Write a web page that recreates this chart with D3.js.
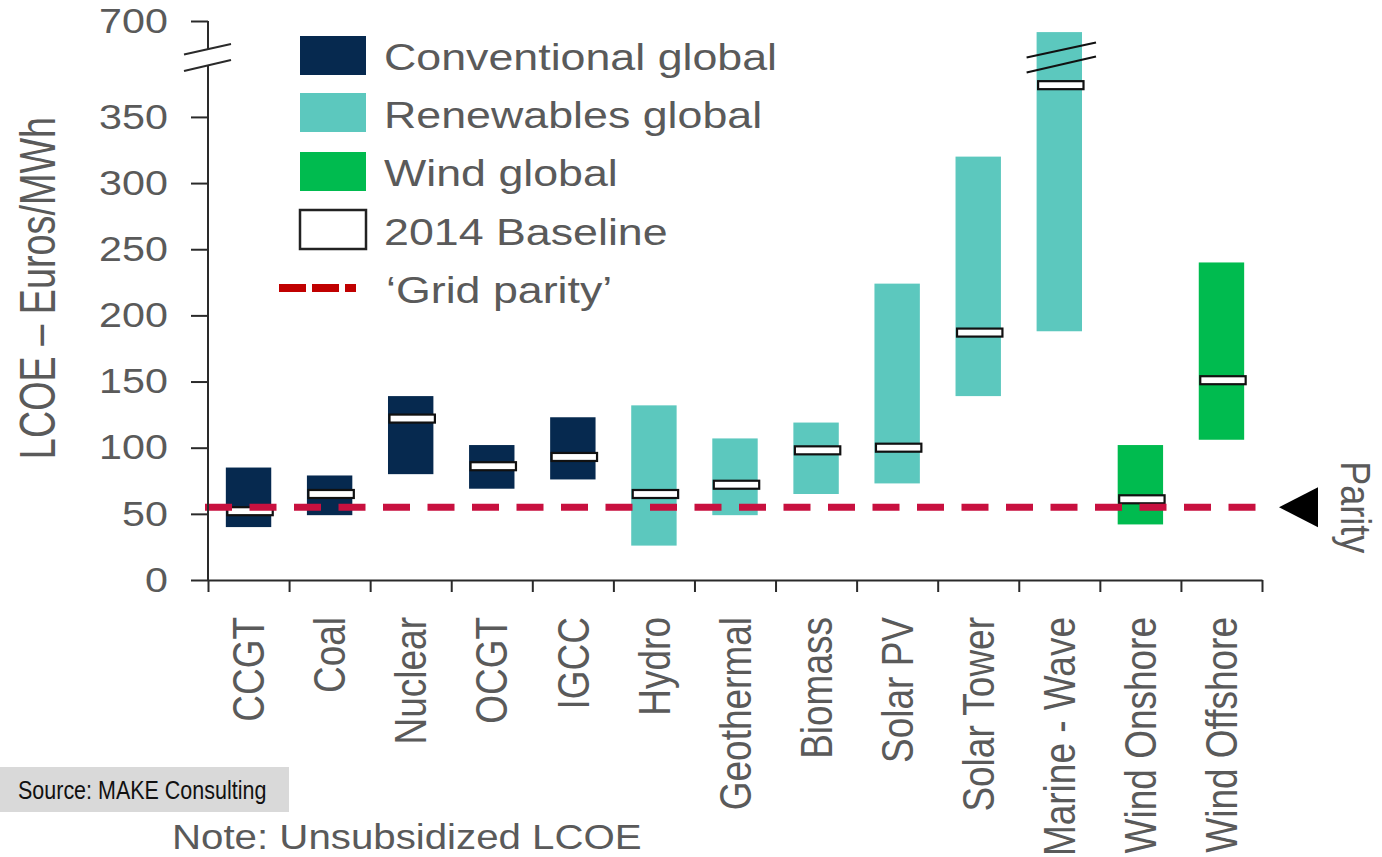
<!DOCTYPE html>
<html>
<head>
<meta charset="utf-8">
<script src="https://cdn.jsdelivr.net/npm/d3@7"></script>
<style>
  html, body { margin: 0; padding: 0; background: #fff; }
  svg { display: block; font-family: "Liberation Sans", Arial, sans-serif; }
</style>
</head>
<body>
<svg id="chart" width="1382" height="857"></svg>
<script>
// Technology categories (x axis)
const categories = ["CCGT", "Coal", "Nuclear", "OCGT", "IGCC", "Hydro", "Geothermal",
  "Biomass", "Solar PV", "Solar Tower", "Marine - Wave", "Wind Onshore", "Wind Offshore"];
// Group of each technology
const groups = ["conv", "conv", "conv", "conv", "conv", "ren", "ren", "ren", "ren", "ren", "ren", "wind", "wind"];
// LCOE range, Euros/MWh
const lowValues  = [40, 49, 80, 69, 76, 26, 49, 65, 73, 139, 188, 42, 106];
const highValues = [85, 79, 139, 102, 123, 132, 107, 119, 224, 320, 620, 102, 240];
// 2014 baseline, Euros/MWh
const baseline2014 = [52, 65, 122, 86, 93, 65, 72, 98, 100, 187, 374, 61, 151];
// Grid parity level
const parityValue = 55;
// Y axis tick labels
const yTicks = [0, 50, 100, 150, 200, 250, 300, 350, 700];
// Legend
const legendLabels = ["Conventional global", "Renewables global", "Wind global", "2014 Baseline", "\u2018Grid parity\u2019"];

const colors = { conv: "#06294f", ren: "#5cc8be", wind: "#00bb4f" };
const textGray = "#5a5a5a";
const axisColor = "#2a2a2a";
const SX = 1.18; // horizontal stretch of the lettering

const svg = d3.select("#chart");

// Broken y scale: linear up to the break, compressed above it
const y = d3.scaleLinear().domain([0, 390, 700]).range([580, 64, 21]);
const x = d3.scaleBand().domain(categories).range([208, 1262]).paddingInner(0.44).paddingOuter(0.22);
const xIdx = d3.scaleLinear().domain([0, categories.length]).range([208, 1262]);

const rows = categories.map((c, i) => ({
  cat: c, group: groups[i], lo: lowValues[i], hi: highValues[i], base: baseline2014[i]
}));

// Range bars
svg.append("g").selectAll("rect").data(rows).join("rect")
  .attr("x", d => x(d.cat))
  .attr("y", d => y(d.hi))
  .attr("width", x.bandwidth())
  .attr("height", d => y(d.lo) - y(d.hi))
  .attr("fill", d => colors[d.group]);

// Break marks across the Marine - Wave bar
const mx = x("Marine - Wave");
const mg = svg.append("g").attr("stroke", "#111").attr("stroke-width", 2.2);
[[57.5, 42.5], [72.5, 56.5]].forEach(([a, b]) => {
  mg.append("line").attr("x1", mx - 10).attr("y1", a).attr("x2", mx + x.bandwidth() + 14).attr("y2", b);
});

// 2014 baseline markers
svg.append("g").selectAll("rect").data(rows).join("rect")
  .attr("x", d => x(d.cat) + 1.5)
  .attr("y", d => y(d.base) - 4)
  .attr("width", x.bandwidth())
  .attr("height", 8)
  .attr("fill", "#fff")
  .attr("stroke", "#111")
  .attr("stroke-width", 2.2);

// Grid parity line
svg.append("line")
  .attr("x1", 205).attr("x2", 1257)
  .attr("y1", y(parityValue)).attr("y2", y(parityValue))
  .attr("stroke", "#c8103f").attr("stroke-width", 7)
  .attr("stroke-dasharray", "27,17.5");

// Parity marker
const py = y(parityValue);
svg.append("path")
  .attr("d", `M1279,${py} L1318,${py - 20} L1318,${py + 20} Z`)
  .attr("fill", "#000");
svg.append("text")
  .attr("transform", `translate(1356,${py}) scale(${SX},1) rotate(90)`)
  .attr("text-anchor", "middle")
  .attr("dy", "0.35em")
  .attr("font-size", 36)
  .attr("fill", textGray)
  .text("Parity");

// Y axis
const yAxis = svg.append("g").attr("transform", "translate(208,0)")
  .call(d3.axisLeft(y).tickValues(yTicks).tickSize(17).tickFormat(d3.format("d")));
yAxis.select(".domain").remove();
yAxis.selectAll(".tick line").attr("stroke", axisColor).attr("stroke-width", 2);
yAxis.selectAll(".tick text")
  .attr("x", null)
  .attr("transform", `translate(-40,0) scale(${SX},1)`)
  .attr("font-size", 35)
  .attr("font-family", "Liberation Sans, Arial, sans-serif")
  .attr("fill", textGray);
// axis line with break
const ax = svg.append("g").attr("stroke", axisColor).attr("stroke-width", 2);
ax.append("line").attr("x1", 208).attr("x2", 208).attr("y1", y(700)).attr("y2", 49);
ax.append("line").attr("x1", 208).attr("x2", 208).attr("y1", 65).attr("y2", 580);
ax.append("line").attr("x1", 184).attr("y1", 54.5).attr("x2", 231).attr("y2", 44);
ax.append("line").attr("x1", 184).attr("y1", 71).attr("x2", 231).attr("y2", 60);

// X axis (ticks on category boundaries)
const xAxis = svg.append("g").attr("transform", "translate(0,580)")
  .call(d3.axisBottom(xIdx).tickValues(d3.range(categories.length + 1)).tickFormat("").tickSize(12).tickSizeOuter(0));
xAxis.select(".domain").attr("stroke", axisColor).attr("stroke-width", 2);
xAxis.selectAll(".tick line").attr("stroke", axisColor).attr("stroke-width", 2);

// Category labels
svg.append("g").selectAll("text").data(categories).join("text")
  .attr("transform", d => `translate(${x(d) + x.bandwidth() / 2},617) scale(${SX},1) rotate(-90)`)
  .attr("text-anchor", "end")
  .attr("dy", "0.36em")
  .attr("font-size", 37)
  .attr("fill", textGray)
  .text(d => d);

// Y axis title
svg.append("text")
  .attr("transform", "translate(37,288) rotate(-90) scale(0.9,1.2)")
  .attr("text-anchor", "middle")
  .attr("dy", "0.36em")
  .attr("font-size", 42)
  .attr("fill", textGray)
  .text("LCOE \u2013 Euros/MWh");

// Legend
const lg = svg.append("g");
const swY = [36, 93, 152, 210];
const swFill = [colors.conv, colors.ren, colors.wind, "#fff"];
swY.forEach((yy, i) => {
  lg.append("rect").attr("x", 300).attr("y", yy).attr("width", 66).attr("height", 39)
    .attr("fill", swFill[i])
    .attr("stroke", i === 3 ? "#222" : "none").attr("stroke-width", 2.5);
});
lg.append("line").attr("x1", 279).attr("x2", 357).attr("y1", 288).attr("y2", 288)
  .attr("stroke", "#c00000").attr("stroke-width", 8).attr("stroke-dasharray", "27,6,27,6,11");
const lgBase = [70, 128, 186, 245, 303];
legendLabels.forEach((t, i) => {
  lg.append("text")
    .attr("transform", `translate(${i === 4 ? 386 : 384},${lgBase[i]}) scale(1.21,1)`)
    .attr("font-size", 37)
    .attr("fill", textGray)
    .text(t);
});

// Source box and note
svg.append("rect").attr("x", 0).attr("y", 767).attr("width", 289).attr("height", 45).attr("fill", "#d9d9d9");
svg.append("text")
  .attr("transform", "translate(18,799) scale(0.86,1)")
  .attr("font-size", 25)
  .attr("fill", "#111")
  .text("Source: MAKE Consulting");
svg.append("text")
  .attr("transform", `translate(172,849) scale(1.15,1)`)
  .attr("font-size", 35)
  .attr("fill", textGray)
  .text("Note: Unsubsidized LCOE");
</script>
</body>
</html>
